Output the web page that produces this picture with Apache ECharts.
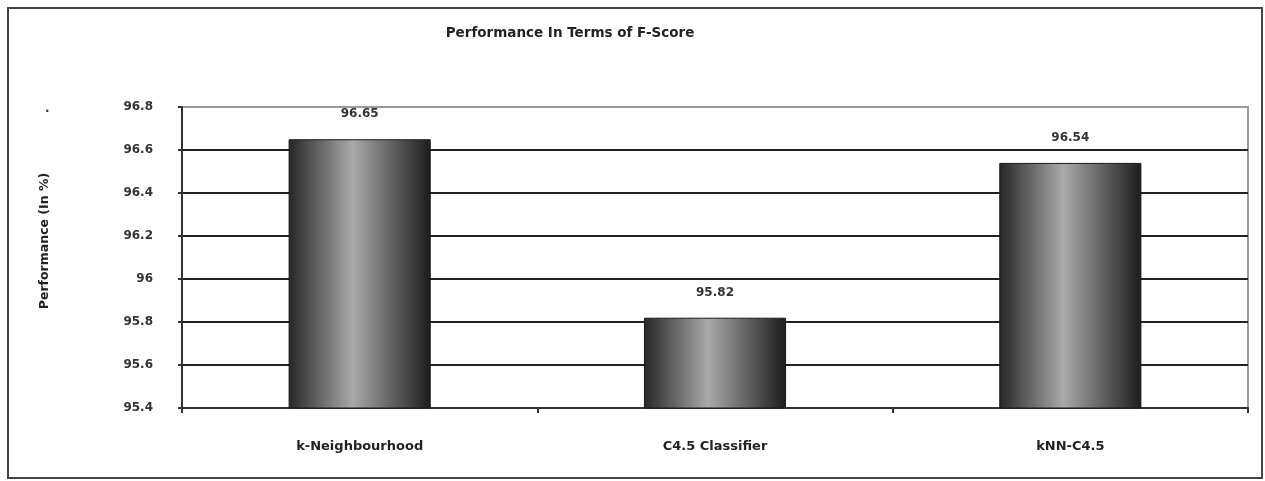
<!DOCTYPE html>
<html>
<head>
<meta charset="utf-8">
<script src="https://cdn.jsdelivr.net/npm/echarts@6/dist/echarts.min.js"></script>
<style>
  html, body { margin: 0; padding: 0; background: #fff; }
  #frame { position: absolute; left: 7px; top: 7px; width: 1252px; height: 468px; border: 2px solid #444; box-sizing: content-box; }
  #chart { position: absolute; left: 0; top: 0; width: 1265px; height: 481px; }
</style>
</head>
<body>
<div id="frame"></div>
<div id="chart"></div>
<script>
// Classifier F-score comparison
const categories = ['k-Neighbourhood', 'C4.5 Classifier', 'kNN-C4.5'];
const fScores = [96.65, 95.82, 96.54];
const chartTitle = 'Performance In Terms of F-Score';
const yAxisName = 'Performance (In %)';

const FONT = '"DejaVu Sans", "Liberation Sans", Arial, sans-serif';

const chart = echarts.init(document.getElementById('chart'), null, { renderer: 'canvas' });

chart.setOption({
  backgroundColor: 'transparent',
  animation: false,
  title: {
    text: chartTitle,
    left: 565,
    top: 21,
    textAlign: 'center',
    textStyle: { fontFamily: FONT, fontSize: 13.5, fontWeight: 'bold', color: '#222' }
  },
  grid: {
    left: 182, right: 17, top: 107, bottom: 73,
    show: true, borderColor: '#9a9a9a', borderWidth: 2, backgroundColor: 'transparent'
  },
  xAxis: {
    type: 'category',
    data: categories,
    axisLine: { lineStyle: { color: '#333', width: 2 } },
    axisTick: { show: true, alignWithLabel: false, length: 5, lineStyle: { color: '#333', width: 2 } },
    axisLabel: { margin: 32, fontFamily: FONT, fontSize: 13, fontWeight: 'bold', color: '#222' }
  },
  yAxis: {
    type: 'value',
    min: 95.4, max: 96.8, interval: 0.2,
    axisLine: { show: true, lineStyle: { color: '#333', width: 2 } },
    axisTick: { show: true, length: 4, lineStyle: { color: '#333', width: 2 } },
    axisLabel: {
      margin: 29, fontFamily: FONT, fontSize: 12, fontWeight: 'bold', color: '#333',
      formatter: v => String(Math.round(v * 10) / 10)
    },
    splitLine: {
      show: true,
      lineStyle: { color: ['#222', '#222', '#222', '#222', '#222', '#222', '#222', '#9a9a9a'], width: 2 }
    }
  },
  graphic: [
    {
      type: 'text', x: 45, y: 241, rotation: Math.PI / 2,
      style: {
        text: yAxisName, align: 'center', verticalAlign: 'middle',
        fontFamily: FONT, fontSize: 12.5, fontWeight: 'bold', fill: '#222'
      }
    },
    {
      type: 'text', left: 45, top: 103,
      style: { text: '.', fontFamily: FONT, fontSize: 12, fontWeight: 'bold', fill: '#333' }
    }
  ],
  series: [{
    type: 'bar',
    data: fScores,
    barWidth: '40%',
    itemStyle: {
      color: new echarts.graphic.LinearGradient(0, 0, 1, 0, [
        { offset: 0, color: '#262626' },
        { offset: 0.45, color: '#a9a9a9' },
        { offset: 1, color: '#1c1c1c' }
      ]),
      borderColor: '#1a1a1a',
      borderWidth: 1
    },
    label: {
      show: true,
      position: 'top',
      distance: 19,
      fontFamily: FONT, fontSize: 12, fontWeight: 'bold', color: '#333',
      formatter: p => p.value.toFixed(2)
    }
  }]
});
</script>
</body>
</html>
